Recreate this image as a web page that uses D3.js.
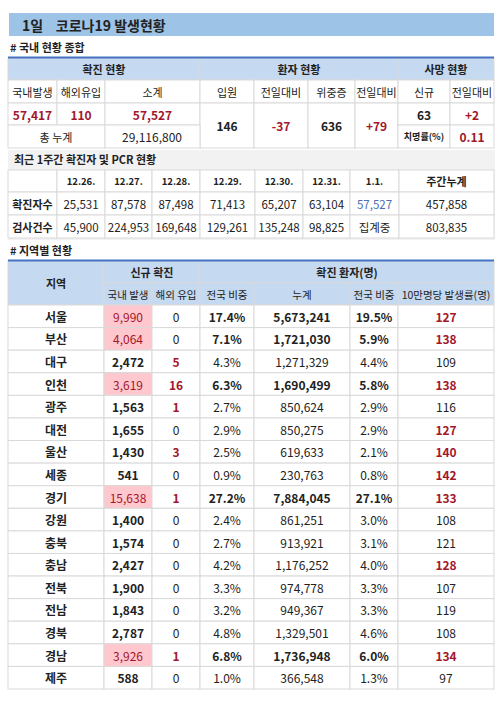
<!DOCTYPE html>
<html><head><meta charset="utf-8">
<script src="https://cdn.jsdelivr.net/npm/d3@7"></script>
<style>body{margin:0;background:#fff}text{font-family:"Noto Sans CJK KR","Noto Sans",sans-serif;white-space:pre}</style>
</head><body>
<script>
// ---- data ----
const title = "1일    코로나19 발생현황";
const sumHeaders = ["국내발생","해외유입","소계","입원","전일대비","위중증","전일대비","신규","전일대비"];
const sumValues = ["57,417","110","57,527","146","-37","636","+79","63","+2"];
const totalCum = "29,116,800";
const fatality = "0.11";
const weekDates = ["12.26.","12.27.","12.28.","12.29.","12.30.","12.31.","1.1.","주간누계"];
const weekCases = ["25,531","87,578","87,498","71,413","65,207","63,104","57,527","457,858"];
const weekTests = ["45,900","224,953","169,648","129,261","135,248","98,825","집계중","803,835"];
const regions = ["서울","부산","대구","인천","광주","대전","울산","세종","경기","강원","충북","충남","전북","전남","경북","경남","제주"];
const domestic = [9990,4064,2472,3619,1563,1655,1430,541,15638,1400,1574,2427,1900,1843,2787,3926,588];
const overseas = [0,0,5,16,1,0,3,0,1,0,0,0,0,0,0,1,0];
const share = [17.4,7.1,4.3,6.3,2.7,2.9,2.5,0.9,27.2,2.4,2.7,4.2,3.3,3.2,4.8,6.8,1.0];
const cumulative = [5673241,1721030,1271329,1690499,850624,850275,619633,230763,7884045,861251,913921,1176252,974778,949367,1329501,1736948,366548];
const cumShare = [19.5,5.9,4.4,5.8,2.9,2.9,2.1,0.8,27.1,3.0,3.1,4.0,3.3,3.3,4.6,6.0,1.3];
const per100k = [127,138,109,138,116,127,140,142,133,108,121,128,107,119,108,134,97];

const RED="#a3162b", HEAD="#c5d9f1", LINE="#d9d9d9", BLUE="#4472c4";
const svg = d3.select("body").append("svg").attr("width",501).attr("height",702);
const fmt = d3.format(",");
function cell(x0,y0,x1,y1,fill){svg.append("rect").attr("x",x0).attr("y",y0).attr("width",x1-x0).attr("height",y1-y0).attr("fill",fill||"#fff").attr("stroke",LINE).attr("stroke-width",1);}
function txt(x,y,s,o={}){svg.append("text").attr("x",x).attr("y",y).attr("text-anchor",o.a||"middle").attr("dominant-baseline","central")
  .attr("font-size",o.size||12).attr("font-weight",o.bold?"bold":"normal").attr("fill",o.color||"#222").attr("xml:space","preserve").text(s);}

// title
svg.append("rect").attr("x",9).attr("y",13).attr("width",485).attr("height",23).attr("fill","#9dc3e6");
txt(22,24.5,title,{a:"start",size:14,bold:true});
txt(10,47,"# 국내 현황 종합",{a:"start",size:11,bold:true});

// table 1
const c1=[8,57,105,200,254,308,355,398,450,494];
const r1=[58,80,103,125,148];
cell(8,r1[0],200,r1[1],HEAD);cell(200,r1[0],398,r1[1],HEAD);cell(398,r1[0],494,r1[1],HEAD);
txt(104,69,"확진 현황",{bold:true,size:11});txt(299,69,"환자 현황",{bold:true,size:11});txt(446,69,"사망 현황",{bold:true,size:11});
sumHeaders.forEach((h,i)=>{cell(c1[i],r1[1],c1[i+1],r1[2]);txt((c1[i]+c1[i+1])/2,91.5,h,{size:11});});
const sumColor=[RED,RED,RED,"#222",RED,"#222",RED,"#222",RED];
sumValues.forEach((v,i)=>{
  const span = (i>=3&&i<=6);
  cell(c1[i],r1[2],c1[i+1],span?r1[4]:r1[3]);
  txt((c1[i]+c1[i+1])/2,span?125.5:114,v,{bold:true,size:12,color:sumColor[i]});
});
cell(8,r1[3],105,r1[4]);txt(56,136.5,"총 누계",{size:11});
cell(105,r1[3],200,r1[4]);txt(152,136.5,totalCum,{size:12});
cell(398,r1[3],450,r1[4]);txt(424,136.5,"치명률(%)",{size:9,bold:true});
cell(450,r1[3],494,r1[4]);txt(472,136.5,fatality,{size:12,bold:true,color:RED});
svg.append("line").attr("x1",8).attr("x2",494).attr("y1",57.5).attr("y2",57.5).attr("stroke",BLUE).attr("stroke-width",2);

// section 2
svg.append("rect").attr("x",8).attr("y",150).attr("width",487).attr("height",90).attr("fill","#f2f2f2");
txt(14,159,"최근 1주간 확진자 및 PCR 현황",{a:"start",size:11,bold:true});
const c2=[8,57,105,152,200,255,303,350,399,494];
const r2=[170,192,215,238];
cell(8,r2[0],57,r2[1]);
weekDates.forEach((d,i)=>{cell(c2[i+1],r2[0],c2[i+2],r2[1]);txt((c2[i+1]+c2[i+2])/2,181,d,{bold:true,size:i==7?11:9.5});});
[["확진자수",weekCases],["검사건수",weekTests]].forEach(([lab,arr],k)=>{
  cell(8,r2[k+1],57,r2[k+2]);txt(32.5,(r2[k+1]+r2[k+2])/2,lab,{size:11,bold:true});
  arr.forEach((v,i)=>{cell(c2[i+1],r2[k+1],c2[i+2],r2[k+2]);
    txt((c2[i+1]+c2[i+2])/2,(r2[k+1]+r2[k+2])/2,v,{size:11.5,color:(k==0&&i==6)?"#4a6fb5":"#222"});});
});
txt(10,250,"# 지역별 현황",{a:"start",size:11,bold:true});

// table 3
const c3=[8,104,152,200,254,350,398,494];
cell(8,261,104,305,HEAD);txt(56,283,"지역",{bold:true,size:11});
cell(104,261,200,283,HEAD);txt(152,272,"신규 확진",{bold:true,size:11});
cell(200,261,494,283,HEAD);txt(347,272,"확진 환자(명)",{bold:true,size:11});
["국내 발생","해외 유입","전국 비중","누계","전국 비중","10만명당 발생률(명)"].forEach((h,i)=>{
  cell(c3[i+1],283,c3[i+2],305,HEAD);txt((c3[i+1]+c3[i+2])/2,294,h,{size:10.5});});
svg.append("line").attr("x1",8).attr("x2",494).attr("y1",260.5).attr("y2",260.5).attr("stroke",BLUE).attr("stroke-width",2);
const y = d3.scaleBand().domain(regions).range([305,689]);
regions.forEach((r,i)=>{
  const y0=y(r), y1=y0+y.bandwidth(), ym=(y0+y1)/2;
  const hot = domestic[i]>3000;
  const vals=[
    [r,{bold:true}],
    [fmt(domestic[i]),hot?{color:RED}:{bold:true}],
    [String(overseas[i]),overseas[i]>0?{bold:true,color:RED}:{}],
    [share[i].toFixed(1)+"%",{bold:hot}],
    [fmt(cumulative[i]),{bold:hot}],
    [cumShare[i].toFixed(1)+"%",{bold:hot}],
    [String(per100k[i]),per100k[i]>=127?{bold:true,color:RED}:{}]
  ];
  vals.forEach(([v,o],j)=>{cell(c3[j],y0,c3[j+1],y1,(j==1&&hot)?"#ffc7ce":"#fff");txt((c3[j]+c3[j+1])/2,ym,v,Object.assign({size:12},o));});
});
</script>
</body></html>
